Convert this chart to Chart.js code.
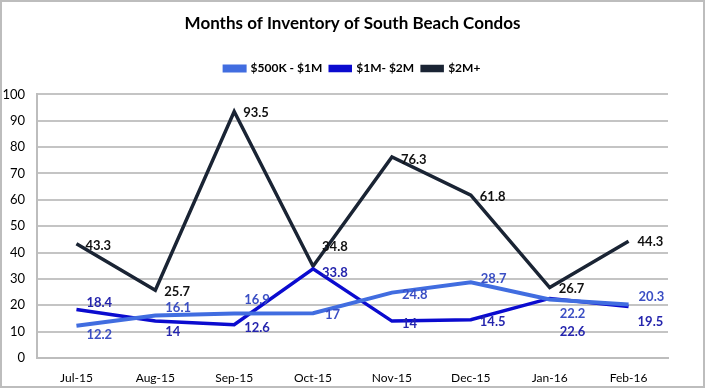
<!DOCTYPE html>
<html>
<head>
<meta charset="utf-8">
<script src="https://cdn.jsdelivr.net/npm/chart.js@4.4.1/dist/chart.umd.min.js"></script>
<style>
    html, body { margin: 0; padding: 0; background: #fff; }
    #wrap { width: 705px; height: 388px; }
</style>
</head>
<body>
<div id="wrap"><canvas id="inventoryChart" width="705" height="388"></canvas></div>
<script>
// === Data ===
var months = ["Jul-15", "Aug-15", "Sep-15", "Oct-15", "Nov-15", "Dec-15", "Jan-16", "Feb-16"];
var seriesNames = ["$500K - $1M", "$1M- $2M", "$2M+"];
var lowTier = [12.2, 16.1, 16.9, 17, 24.8, 28.7, 22.2, 20.3];
var midTier = [18.4, 14, 12.6, 33.8, 14, 14.5, 22.6, 19.5];
var topTier = [43.3, 25.7, 93.5, 34.8, 76.3, 61.8, 26.7, 44.3];

// label nudges (dx, dy) per point, so labels sit like the original
var labelNudges = [
    [[10, 9], [10, -8], [10, -14], [12, 2], [10, 2], [10, -4], [10, 14], [10, -8]],
    [[10, -7], [10, 11], [10, 3], [9, 4], [10, 3], [9, 2], [10, 33], [9, 15]],
    [[9, 2], [9, 2], [9, 1], [9, -19], [9, 3], [9, 2], [9, 1], [9, 1]]
];
var labelColors = ['#3b4fc4', '#2525ad', '#111111'];

var frameBorder = {
    id: 'frameBorder',
    beforeDraw: function(chart) {
        var ctx = chart.ctx;
        ctx.save();
        ctx.fillStyle = '#fff';
        ctx.fillRect(0, 0, chart.width, chart.height);
        ctx.strokeStyle = '#bdbdbd';
        ctx.lineWidth = 2;
        ctx.strokeRect(1, 1, chart.width - 2, chart.height - 2);
        ctx.restore();
    }
};

var pointLabels = {
    id: 'pointLabels',
    afterDatasetsDraw: function(chart) {
        var ctx = chart.ctx;
        ctx.save();
        ctx.font = 'bold 13px Lato';
        ctx.textAlign = 'left';
        ctx.textBaseline = 'middle';
        chart.data.datasets.forEach(function(ds, di) {
            var meta = chart.getDatasetMeta(di);
            ctx.fillStyle = labelColors[di];
            meta.data.forEach(function(pt, i) {
                var n = labelNudges[di][i];
                ctx.fillText(String(ds.data[i]), pt.x + n[0], pt.y + n[1]);
            });
        });
        ctx.restore();
    }
};

var legendGap = {
    id: 'legendGap',
    beforeInit: function(chart) {
        var originalFit = chart.legend.fit;
        chart.legend.fit = function() {
            originalFit.bind(chart.legend)();
            this.height += 10;
        };
    }
};

var ctx = document.getElementById('inventoryChart').getContext('2d');
var inventoryChart = new Chart(ctx, {
    type: 'line',
    data: {
        labels: months,
        datasets: [{
            label: seriesNames[0],
            data: lowTier,
            borderColor: '#416de0',
            backgroundColor: '#416de0',
            borderWidth: 4,
            pointRadius: 0,
            tension: 0
        }, {
            label: seriesNames[1],
            data: midTier,
            borderColor: '#0b0bcf',
            backgroundColor: '#0b0bcf',
            borderWidth: 3.5,
            pointRadius: 0,
            tension: 0
        }, {
            label: seriesNames[2],
            data: topTier,
            borderColor: '#1a2434',
            backgroundColor: '#1a2434',
            borderWidth: 3.5,
            pointRadius: 0,
            tension: 0
        }]
    },
    options: {
        responsive: false,
        animation: false,
        layout: { padding: 0 },
        plugins: {
            title: {
                display: true,
                text: 'Months of Inventory of South Beach Condos',
                color: '#000',
                font: { family: 'Lato', size: 17, weight: 'bold', lineHeight: 1.2 },
                padding: { top: 13, bottom: 21 }
            },
            legend: {
                display: true,
                position: 'top',
                labels: {
                    color: '#000',
                    font: { family: 'Lato', size: 12, weight: 'bold' },
                    boxWidth: 20,
                    boxHeight: 4,
                    padding: 8
                }
            },
            tooltip: { enabled: false }
        },
        scales: {
            x: {
                offset: true,
                grid: { display: false },
                border: { color: '#bdbdbd', width: 2 },
                ticks: { color: '#000', font: { family: 'Lato', size: 12 }, padding: 5, maxRotation: 0 },
                afterFit: function(scale) { scale.height = 30; }
            },
            y: {
                min: 0,
                max: 100,
                ticks: { stepSize: 10, color: '#000', font: { family: 'Lato', size: 13 }, padding: 12 },
                grid: { color: '#c4c4c4', lineWidth: 2, drawTicks: false },
                border: { color: '#bdbdbd', width: 2 },
                afterFit: function(scale) { scale.width = 37; }
            },
            // empty right-hand spacer so title and legend centre on the whole frame
            yRight: {
                type: 'linear',
                position: 'right',
                min: 0,
                max: 100,
                ticks: { display: false },
                grid: { display: false },
                border: { display: false },
                afterFit: function(scale) { scale.width = 37; }
            }
        }
    },
    plugins: [frameBorder, legendGap, pointLabels]
});
</script>
</body>
</html>
